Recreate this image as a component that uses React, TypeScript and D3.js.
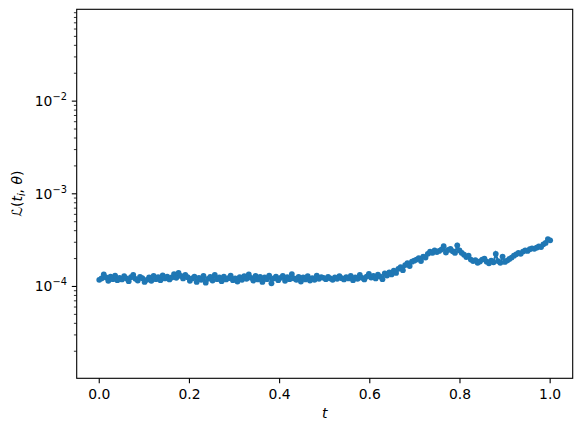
import React, { useEffect, useRef } from 'react';
import * as d3 from 'd3';

// loss values, one per sample, t evenly spaced over [0, 1]
const lossValues: number[] = [
    1.18e-4, 1.22e-4, 1.35e-4, 1.25e-4, 1.15e-4, 1.28e-4, 1.20e-4, 1.31e-4, 1.17e-4, 1.24e-4,
    1.19e-4, 1.29e-4, 1.22e-4, 1.14e-4, 1.26e-4, 1.33e-4, 1.21e-4, 1.16e-4, 1.27e-4, 1.23e-4,
    1.12e-4, 1.18e-4, 1.25e-4, 1.15e-4, 1.30e-4, 1.20e-4, 1.26e-4, 1.17e-4, 1.32e-4, 1.22e-4,
    1.28e-4, 1.19e-4, 1.25e-4, 1.36e-4, 1.24e-4, 1.40e-4, 1.30e-4, 1.22e-4, 1.33e-4, 1.26e-4,
    1.15e-4, 1.22e-4, 1.28e-4, 1.12e-4, 1.24e-4, 1.18e-4, 1.30e-4, 1.10e-4, 1.21e-4, 1.27e-4,
    1.16e-4, 1.33e-4, 1.20e-4, 1.25e-4, 1.14e-4, 1.28e-4, 1.19e-4, 1.23e-4, 1.31e-4, 1.17e-4,
    1.22e-4, 1.13e-4, 1.26e-4, 1.18e-4, 1.29e-4, 1.21e-4, 1.35e-4, 1.24e-4, 1.16e-4, 1.30e-4,
    1.19e-4, 1.27e-4, 1.12e-4, 1.25e-4, 1.20e-4, 1.31e-4, 1.08e-4, 1.22e-4, 1.28e-4, 1.17e-4,
    1.24e-4, 1.30e-4, 1.15e-4, 1.26e-4, 1.20e-4, 1.36e-4, 1.22e-4, 1.18e-4, 1.27e-4, 1.13e-4,
    1.25e-4, 1.19e-4, 1.29e-4, 1.16e-4, 1.23e-4, 1.18e-4, 1.31e-4, 1.21e-4, 1.26e-4, 1.24e-4,
    1.20e-4, 1.27e-4, 1.22e-4, 1.18e-4, 1.25e-4, 1.21e-4, 1.29e-4, 1.23e-4, 1.19e-4, 1.26e-4,
    1.22e-4, 1.30e-4, 1.17e-4, 1.25e-4, 1.21e-4, 1.33e-4, 1.24e-4, 1.19e-4, 1.28e-4, 1.37e-4,
    1.25e-4, 1.30e-4, 1.22e-4, 1.34e-4, 1.28e-4, 1.20e-4, 1.38e-4, 1.31e-4, 1.42e-4, 1.35e-4,
    1.48e-4, 1.40e-4, 1.55e-4, 1.62e-4, 1.50e-4, 1.70e-4, 1.78e-4, 1.66e-4, 1.85e-4, 1.90e-4,
    1.95e-4, 2.02e-4, 1.88e-4, 2.10e-4, 2.05e-4, 2.25e-4, 2.38e-4, 2.30e-4, 2.45e-4, 2.35e-4,
    2.42e-4, 2.50e-4, 2.72e-4, 2.32e-4, 2.48e-4, 2.55e-4, 2.40e-4, 2.30e-4, 2.78e-4, 2.45e-4,
    2.30e-4, 2.20e-4, 2.08e-4, 2.15e-4, 1.95e-4, 1.88e-4, 1.92e-4, 1.80e-4, 1.86e-4, 1.95e-4,
    2.00e-4, 1.85e-4, 1.78e-4, 1.90e-4, 1.82e-4, 2.25e-4, 1.88e-4, 1.80e-4, 2.10e-4, 1.84e-4,
    1.90e-4, 1.98e-4, 2.05e-4, 2.15e-4, 2.22e-4, 2.30e-4, 2.25e-4, 2.38e-4, 2.45e-4, 2.42e-4,
    2.52e-4, 2.58e-4, 2.55e-4, 2.62e-4, 2.70e-4, 2.66e-4, 2.85e-4, 2.95e-4, 3.25e-4, 3.15e-4,
];

const xTicks = [0, 0.2, 0.4, 0.6, 0.8, 1.0];
const yMajorExponents = [-6, -5, -4, -3, -2, -1];

const App = () => {
    const svgRef = useRef<SVGSVGElement>(null);

    useEffect(() => {
        const svg = d3.select(svgRef.current);
        svg.selectAll('*').remove();

        const width = 582;
        const height = 432;
        const left = 76.7, right = 572.7, top = 9.3, bottom = 378.3;
        const font = 'DejaVu Sans, sans-serif';
        const blue = '#1f77b4';

        const n = lossValues.length;
        const points = lossValues.map((v, i) => ({ t: i / (n - 1), v }));

        const x = d3.scaleLinear().domain([-0.05, 1.05]).range([left, right]);
        const y = d3.scaleLog().domain([Math.pow(10, -4.991), Math.pow(10, -1.009)]).range([bottom, top]);

        svg.attr('width', width).attr('height', height);

        // data line + markers
        const line = d3.line<{ t: number; v: number }>()
            .x(d => x(d.t))
            .y(d => y(d.v));

        const plot = svg.append('g');
        plot.append('path')
            .datum(points)
            .attr('d', line)
            .attr('fill', 'none')
            .attr('stroke', blue)
            .attr('stroke-width', 2.1);

        plot.selectAll('circle')
            .data(points)
            .enter()
            .append('circle')
            .attr('cx', d => x(d.t))
            .attr('cy', d => y(d.v))
            .attr('r', 2.9)
            .attr('fill', blue);

        // x ticks
        const xAxis = svg.append('g');
        xTicks.forEach(t => {
            xAxis.append('line')
                .attr('x1', x(t)).attr('x2', x(t))
                .attr('y1', bottom).attr('y2', bottom + 4.9)
                .attr('stroke', 'black').attr('stroke-width', 1.1);
            xAxis.append('text')
                .attr('x', x(t))
                .attr('y', bottom + 9.8 + 11)
                .attr('text-anchor', 'middle')
                .attr('font-family', font)
                .attr('font-size', 13.9)
                .text(t.toFixed(1));
        });

        // y ticks (log, major + minor)
        const [yMin, yMax] = y.domain();
        const yAxis = svg.append('g');
        yMajorExponents.forEach(e => {
            const major = Math.pow(10, e);
            if (major >= yMin && major <= yMax) {
                yAxis.append('line')
                    .attr('x1', left - 4.9).attr('x2', left)
                    .attr('y1', y(major)).attr('y2', y(major))
                    .attr('stroke', 'black').attr('stroke-width', 1.1);
                const label = yAxis.append('text')
                    .attr('x', left - 9.8)
                    .attr('y', y(major) + 5)
                    .attr('text-anchor', 'end')
                    .attr('font-family', font)
                    .attr('font-size', 13.9);
                label.append('tspan').text('10');
                label.append('tspan')
                    .attr('dy', -6)
                    .attr('font-size', 9.8)
                    .text(`\u2212${-e}`);
            }
            for (let k = 2; k <= 9; k++) {
                const minor = k * major;
                if (minor >= yMin && minor <= yMax) {
                    yAxis.append('line')
                        .attr('x1', left - 2.8).attr('x2', left)
                        .attr('y1', y(minor)).attr('y2', y(minor))
                        .attr('stroke', 'black').attr('stroke-width', 0.8);
                }
            }
        });

        // frame
        svg.append('rect')
            .attr('x', left).attr('y', top)
            .attr('width', right - left).attr('height', bottom - top)
            .attr('fill', 'none')
            .attr('stroke', 'black')
            .attr('stroke-width', 1.1);

        // axis labels
        svg.append('text')
            .attr('x', (left + right) / 2)
            .attr('y', 418)
            .attr('text-anchor', 'middle')
            .attr('font-family', font)
            .attr('font-style', 'italic')
            .attr('font-size', 13.9)
            .text('t');

        const yLabel = svg.append('text')
            .attr('transform', `translate(22, ${(top + bottom) / 2}) rotate(-90)`)
            .attr('text-anchor', 'middle')
            .attr('font-family', font)
            .attr('font-size', 13.9);
        yLabel.append('tspan').attr('font-style', 'italic').text('\u2112');
        yLabel.append('tspan').text('(');
        yLabel.append('tspan').attr('font-style', 'italic').text('t');
        yLabel.append('tspan').attr('font-style', 'italic').attr('font-size', 9.7).attr('dy', 3).text('i');
        yLabel.append('tspan').attr('dy', -3).text(', ');
        yLabel.append('tspan').attr('font-style', 'italic').text('\u03b8');
        yLabel.append('tspan').text(')');
    }, []);

    return (
        <svg ref={svgRef} style={{ position: 'absolute', left: 0, top: 0, background: 'white' }}></svg>
    );
};

export default App;
